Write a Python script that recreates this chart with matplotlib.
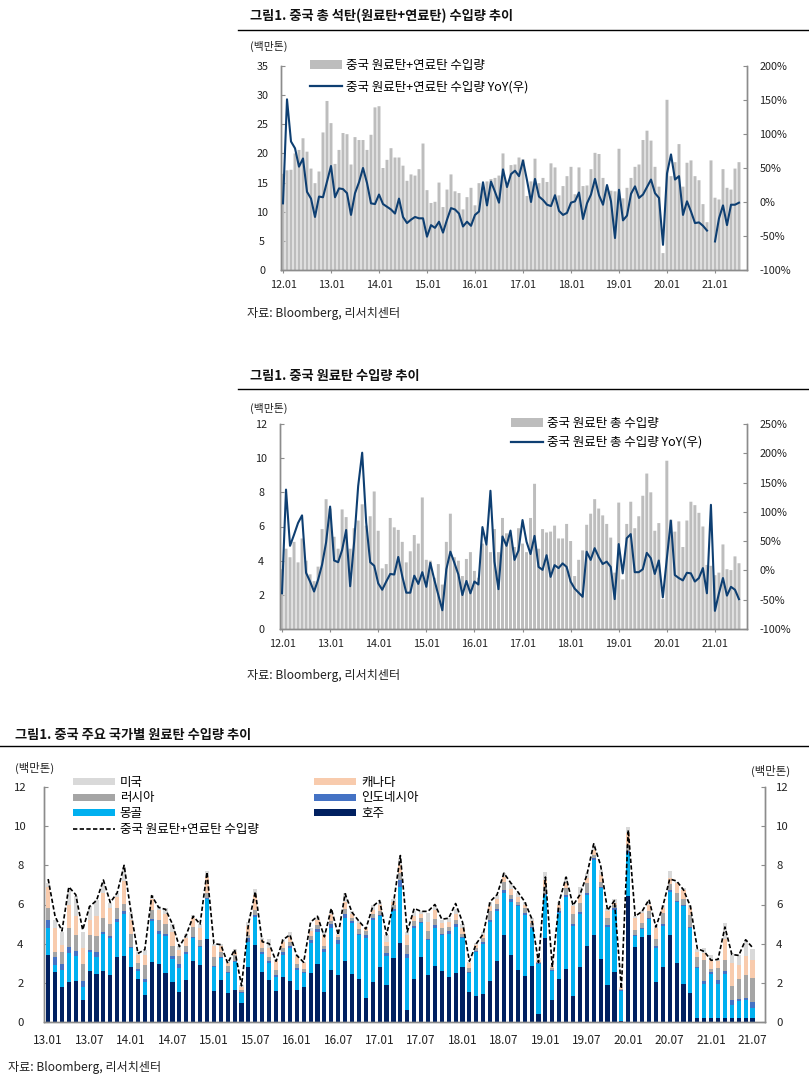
#!/usr/bin/env python3
"""
China coal import charts: total coal, coking coal, coking coal by country
"""

import numpy as np
import matplotlib.pyplot as plt
from matplotlib.patches import Patch
from matplotlib.lines import Line2D

plt.rcParams['font.family'] = ['Noto Sans CJK KR', 'DejaVu Sans']

W, H = 809, 1081

# ---- 그림1: total coal imports 12.01 ~ 21.07 (million tons) and YoY (%) ----
total_imports = [
    16.5, 17.1, 17.2, 20.0, 20.6, 22.6, 20.3, 17.4, 14.9, 16.9, 23.6, 29.0,
    25.2, 18.2, 20.6, 23.5, 23.3, 18.1, 22.8, 22.3, 22.3, 20.6, 23.2, 27.9,
    28.1, 17.5, 18.9, 20.9, 19.3, 19.3, 17.9, 15.3, 16.4, 16.2, 17.3, 21.7,
    13.7, 11.5, 11.7, 15.0, 10.8, 13.8, 16.4, 13.5, 13.2, 10.4, 12.5, 14.1,
    11.1, 14.9, 14.2, 15.2, 15.6, 15.8, 16.2, 20.0, 14.7, 18.0, 18.1, 19.3,
    19.0, 12.7, 15.2, 19.1, 14.9, 15.8, 15.1, 18.3, 17.6, 12.8, 14.4, 16.1,
    17.7, 13.0, 17.6, 14.4, 14.5, 17.3, 20.1, 19.9, 15.8, 14.3, 13.6, 13.5,
    20.8, 12.3, 14.1, 15.8, 17.7, 18.1, 22.3, 23.9, 22.2, 17.7, 14.3, 2.9,
    29.2, 16.1, 18.5, 21.6, 14.3, 18.4, 18.8, 16.1, 15.4, 11.3, 8.2, 18.8,
    12.4, 12.1, 17.3, 14.1, 13.8, 17.4, 18.5,
]
total_yoy = [
    -2, 151, 89, 79, 52, 64, 15, 5, -22, 8, 7, 30,
    53, 7, 20, 19, 13, -19, 13, 29, 50, 28, -2, -3,
    11, -3, -7, -11, -17, 5, -22, -31, -26, -22, -24, -24,
    -51, -34, -38, -29, -45, -26, -9, -11, -17, -36, -29, -35,
    -19, -14, 29, -5, 30, 15, -1, 48, 22, 41, 46, 38,
    61, 32, 0, 34, 8, 3, -4, -6, 10, -13, -19, -16,
    -1, 1, 14, -25, -2, 11, 34, 10, -4, 25, 1, -53,
    18, -27, -20, 12, 23, 6, 11, 22, 33, 13, 6, -63,
    42, 70, 33, 38, -19, 1, -14, -31, -30, -35, -42, np.nan,
    -58, -24, -5, -34, -4, -4, -1,
]

# ---- 그림1: coking coal imports 12.01 ~ 21.07 (million tons) and YoY (%) ----
coking_imports = [
    3.5, 4.7, 4.2, 5.1, 3.9, 5.3, 4.0, 3.2, 2.8, 3.65, 5.85, 7.6,
    7.05, 5.4, 4.7, 7.0, 6.55, 4.7, 5.9, 6.35, 7.3, 6.05, 6.6, 8.05,
    5.75, 3.55, 3.8, 6.5, 5.95, 5.8, 5.1, 3.9, 4.55, 5.5, 5.0, 7.7,
    4.05, 4.0, 3.0, 3.8, 2.6, 5.1, 6.75, 4.2, 4.0, 3.1, 4.1, 4.5,
    3.4, 3.0, 5.0, 4.9, 4.5, 5.85, 4.5, 6.5, 5.6, 5.6, 4.8, 5.9,
    5.0, 4.5, 6.5, 8.5, 4.7, 5.85, 5.65, 5.7, 6.05, 5.3, 5.3, 6.15,
    5.15, 3.1, 4.05, 4.6, 6.1, 6.75, 7.6, 7.05, 6.65, 6.15, 5.35, 3.3,
    7.4, 2.9, 6.15, 7.45, 5.9, 6.6, 7.8, 9.1, 8.0, 5.75, 6.2, 1.75,
    9.85, 6.4, 5.7, 6.3, 4.8, 6.35, 7.45, 7.25, 6.8, 6.0, 3.75, 3.7,
    3.15, 3.3, 4.95, 3.5, 3.45, 4.25, 3.85,
]
coking_yoy = [
    -39, 138, 42, 61, 81, 94, -4, -19, -36, -16, 10, 48,
    109, 17, 14, 35, 69, -27, 49, 144, 201, 82, 14, 8,
    -22, -33, -19, -6, -7, 23, -10, -38, -38, -9, -23, -3,
    -28, 13, -16, -42, -68, 2, 32, 13, -7, -42, -18, -39,
    -19, -24, 74, 44, 136, 15, -32, 58, 42, 68, 18, 34,
    86, 49, 28, 59, 6, 1, 26, -11, 9, 4, 12, 6,
    -19, -31, -38, -45, 32, 18, 38, 23, 11, 15, 6, -49,
    45, -5, 55, 62, -3, -3, 2, 30, 21, -6, 17, -46,
    20, 85, -8, -13, -17, -4, -5, -19, -13, 4, -39, 112,
    -69, -39, -13, -43, -28, -33, -49,
]

# ---- 그림1: coking coal imports by country 13.01 ~ 21.07 (million tons) ----
australia = [
    3.4, 2.55, 1.8, 2.05, 2.1, 1.1, 2.6, 2.45, 2.6, 2.4, 3.3, 3.35,
    2.8, 2.2, 1.4, 3.05, 2.95, 2.5, 2.05, 1.55, 2.15, 3.1, 2.9, 4.25,
    1.6, 2.15, 1.5, 1.65, 0.95, 2.8, 3.95, 2.55, 2.15, 1.6, 2.3, 2.1,
    1.65, 1.8, 2.5, 2.95, 1.55, 2.65, 2.4, 3.1, 2.45, 2.2, 1.23, 2.05,
    2.8, 1.9, 3.25, 4.05, 0.6, 2.2, 3.3, 2.4, 2.85, 2.6, 2.3, 2.5,
    2.8, 1.55, 1.35, 1.45, 2.1, 3.1, 4.45, 3.4, 2.65, 2.35, 2.85, 0.4,
    4.3, 1.1, 2.2, 2.7, 1.35, 2.8, 3.9, 4.45, 3.2, 1.9, 2.55, 0.05,
    6.45, 3.85, 4.35, 4.45, 2.05, 2.8, 4.45, 3.0, 1.95, 1.5, 0.22, 0.22,
    0.22, 0.22, 0.22, 0.22, 0.22, 0.22, 0.22,
]
mongolia = [
    1.4, 0.35, 0.85, 1.45, 1.25, 0.7, 0.95, 0.85, 1.9, 1.9, 1.8, 2.15,
    1.0, 0.4, 0.65, 2.1, 1.55, 1.9, 1.15, 1.2, 1.3, 1.2, 0.95, 2.05,
    1.2, 1.1, 1.0, 1.4, 0.55, 1.3, 1.4, 0.9, 0.85, 0.7, 1.1, 1.7,
    1.0, 0.7, 1.55, 1.65, 2.05, 2.15, 1.6, 2.2, 2.6, 2.25, 3.07, 3.15,
    2.6, 1.45, 2.4, 2.85, 2.65, 2.6, 1.75, 1.8, 1.95, 1.85, 2.2, 2.35,
    1.5, 0.95, 2.25, 2.55, 3.0, 2.55, 2.15, 2.75, 3.25, 3.1, 1.95, 2.55,
    2.2, 1.5, 3.35, 3.7, 3.55, 2.7, 2.6, 3.8, 3.65, 2.95, 3.15, 1.55,
    2.2, 0.55, 0.4, 0.8, 1.75, 2.1, 2.2, 3.15, 3.95, 3.3, 2.53, 1.73,
    2.23, 1.73, 2.23, 0.63, 0.83, 0.88, 0.48,
]
indonesia = [
    0.4, 0.4, 0.3, 0.35, 0.3, 0.3, 0.15, 0.3, 0.1, 0.1, 0.15, 0.15,
    0.05, 0.1, 0.15, 0.1, 0.15, 0.1, 0.15, 0.2, 0.1, 0.05, 0.05, 0.05,
    0.05, 0.05, 0.05, 0.05, 0.05, 0.2, 0.1, 0.1, 0.1, 0.1, 0.15, 0.1,
    0.1, 0.05, 0.15, 0.15, 0.15, 0.2, 0.2, 0.2, 0.1, 0.05, 0.15, 0.1,
    0.05, 0.15, 0.1, 0.35, 0.2, 0.1, 0.05, 0.05, 0.15, 0.05, 0.15, 0.15,
    0.05, 0.05, 0.05, 0.1, 0.1, 0.1, 0.15, 0.15, 0.05, 0.1, 0.05, 0.05,
    0.05, 0.05, 0.1, 0.1, 0.1, 0.1, 0.1, 0.1, 0.05, 0.1, 0.1, 0.05,
    0.1, 0.05, 0.05, 0.05, 0.1, 0.1, 0.1, 0.05, 0.05, 0.05, 0.05, 0.15,
    0.1, 0.2, 0.15, 0.25, 0.15, 0.15, 0.3,
]
russia = [
    0.6, 0.3, 0.6, 0.95, 0.8, 0.85, 0.75, 0.8, 0.7, 0.6, 0.55, 0.4,
    0.65, 0.3, 0.7, 0.45, 0.55, 0.5, 0.55, 0.4, 0.35, 0.5, 0.3, 0.25,
    0.45, 0.25, 0.3, 0.3, 0.1, 0.15, 0.25, 0.25, 0.2, 0.25, 0.25, 0.2,
    0.2, 0.15, 0.2, 0.2, 0.15, 0.15, 0.15, 0.25, 0.15, 0.25, 0.2, 0.2,
    0.2, 0.4, 0.2, 0.35, 0.5, 0.25, 0.2, 0.4, 0.3, 0.3, 0.2, 0.2,
    0.15, 0.2, 0.15, 0.2, 0.45, 0.3, 0.4, 0.2, 0.2, 0.25, 0.2, 0.05,
    0.35, 0.1, 0.15, 0.35, 0.5, 0.5, 0.5, 0.2, 0.25, 0.35, 0.15, 0.05,
    0.3, 0.25, 0.25, 0.35, 0.35, 0.55, 0.3, 0.4, 0.35, 0.6, 0.5, 1.05,
    0.15, 0.6, 0.55, 0.75, 1.0, 1.15, 1.25,
]
canada = [
    1.1, 1.2, 0.4, 1.2, 0.95, 0.85, 0.75, 1.0, 1.3, 0.8, 0.6, 1.15,
    0.7, 0.4, 0.5, 0.6, 0.5, 0.5, 0.7, 0.35, 0.4, 0.45, 0.6, 0.8,
    0.6, 0.35, 0.15, 0.2, 0.15, 0.45, 0.8, 0.4, 0.5, 0.45, 0.3, 0.25,
    0.35, 0.3, 0.25, 0.25, 0.55, 0.35, 0.1, 0.4, 0.2, 0.3, 0.15, 0.2,
    0.3, 0.2, 0.2, 0.4, 0.5, 0.25, 0.2, 0.45, 0.45, 0.25, 0.25, 0.3,
    0.3, 0.25, 0.15, 0.15, 0.25, 0.25, 0.25, 0.3, 0.25, 0.2, 0.1, 0.1,
    0.35, 0.05, 0.15, 0.25, 0.4, 0.4, 0.25, 0.25, 0.35, 0.35, 0.15, 0.05,
    0.6, 0.6, 0.5, 0.3, 0.55, 0.25, 0.3, 0.5, 0.45, 0.35, 0.3, 0.35,
    0.45, 0.35, 1.1, 1.15, 0.7, 0.95, 0.9,
]
usa = [
    0.2, 0.4, 0.65, 0.8, 1.05, 0.8, 0.7, 0.85, 0.5, 0.3, 0.2, 0.7,
    0.4, 0.15, 0.3, 0.2, 0.2, 0.3, 0.4, 0.2, 0.2, 0.15, 0.2, 0.3,
    0.1, 0.1, 0.05, 0.15, 0.1, 0.2, 0.3, 0.1, 0.45, 0.1, 0.15, 0.25,
    0.1, 0.05, 0.15, 0.15, 0.15, 0.2, 0.05, 0.45, 0.15, 0.1, 0.05, 0.25,
    0.2, 0.35, 0.15, 0.35, 0.15, 0.25, 0.15, 0.45, 0.25, 0.15, 0.2, 0.25,
    0.2, 0.05, 0.1, 0.15, 0.25, 0.2, 0.2, 0.3, 0.2, 0.15, 0.15, 0.1,
    0.4, 0.1, 0.2, 0.3, 0.1, 0.4, 0.25, 0.25, 0.25, 0.15, 0.2, 0.05,
    0.3, 0.1, 0.1, 0.2, 0.1, 0.15, 0.35, 0.05, 0.1, 0.15, 0.15, 0.3,
    0.25, 0.1, 0.8, 0.5, 0.5, 0.85, 0.6,
]
coking_total = [
    7.3, 5.4, 4.65, 6.9, 6.5, 4.7, 5.9, 6.2, 7.25, 6.1, 6.6, 8.0,
    5.6, 3.5, 3.7, 6.45, 5.85, 5.75, 5.0, 3.85, 4.45, 5.4, 5.0, 7.65,
    4.0, 3.95, 3.0, 3.7, 1.85, 5.0, 6.65, 4.1, 4.0, 3.1, 4.2, 4.45,
    3.4, 3.05, 5.1, 5.4, 4.35, 5.8, 4.45, 6.55, 5.6, 5.15, 4.75, 5.9,
    6.2, 4.45, 6.05, 8.5, 4.6, 5.8, 5.65, 5.65, 6.0, 5.25, 5.3, 6.05,
    5.1, 3.1, 4.0, 4.5, 6.15, 6.5, 7.6, 7.1, 6.65, 6.15, 5.3, 3.05,
    7.4, 2.8, 6.15, 7.4, 5.95, 6.5, 7.5, 9.1, 8.0, 5.7, 6.2, 1.7,
    9.8, 5.4, 5.65, 6.25, 4.85, 5.9, 7.3, 7.2, 6.75, 5.9, 3.75, 3.6,
    3.15, 3.2, 4.85, 3.45, 3.4, 4.2, 3.8,
]

year_labels = ['12.01', '13.01', '14.01', '15.01', '16.01',
               '17.01', '18.01', '19.01', '20.01', '21.01']
half_labels = ['13.01', '13.07', '14.01', '14.07', '15.01', '15.07',
               '16.01', '16.07', '17.01', '17.07', '18.01', '18.07',
               '19.01', '19.07', '20.01', '20.07', '21.01', '21.07']

country_names = ['호주', '몽골', '인도네시아', '러시아', '캐나다', '미국']
country_colors = ['#002060', '#00b0f0', '#4472c4', '#a5a5a5', '#f8cbad', '#d9d9d9']

BAR_GRAY = '#bdbdbd'
LINE_BLUE = '#0e3f72'
SPINE = '#8c8c8c'
TXT = '#222222'
DASH = (0, (2.6, 1.4))


def fx(px):
    return px / W


def fy(py):
    return 1 - py / H


def box(left, top, right, bottom):
    """pixel box -> figure fraction rect"""
    return [fx(left), fy(bottom), (right - left) / W, (bottom - top) / H]


def header(fig, title, x_title, y_title, x_line, y_line):
    fig.text(fx(x_title), fy(y_title), title, fontsize=9.5, fontweight='bold',
             color='#111111', va='center', ha='left')
    fig.add_artist(Line2D([fx(x_line), 1.0], [fy(y_line), fy(y_line)],
                          transform=fig.transFigure, color='black', lw=1.0))


def style_axes(ax):
    ax.spines['top'].set_visible(False)
    for side in ['left', 'right', 'bottom']:
        ax.spines[side].set_color(SPINE)
        ax.spines[side].set_linewidth(1.0)
    ax.tick_params(axis='y', direction='in', length=3, color=SPINE,
                   labelcolor=TXT)
    ax.tick_params(axis='x', direction='inout', length=4, color=SPINE,
                   labelcolor=TXT)


def yoy_panel(fig, rect, bars, yoy, ymax, ystep, rmin, rmax, rstep):
    """bar (left axis) + YoY line (right axis) panel"""
    x = np.arange(len(bars))
    ax = fig.add_axes(rect)
    ax.bar(x, bars, width=0.74, color=BAR_GRAY, linewidth=0, snap=False,
           zorder=2)
    ax.set_xlim(-0.5, 116)
    ax.set_ylim(0, ymax)
    ax.set_yticks(np.arange(0, ymax + 0.1, ystep))
    ax.set_xticks(np.arange(0, 109, 12))
    ax.set_xticklabels(year_labels)
    style_axes(ax)
    ax.tick_params(axis='y', labelsize=7.8, pad=13.5)
    ax.tick_params(axis='x', labelsize=7.8, pad=5)
    for t in ax.get_yticklabels():
        t.set_horizontalalignment('center')

    ax2 = ax.twinx()
    ax2.plot(x, yoy, color=LINE_BLUE, lw=1.5, zorder=3)
    ax2.set_ylim(rmin, rmax)
    ticks = np.arange(rmin, rmax + 1, rstep)
    ax2.set_yticks(ticks)
    ax2.set_yticklabels([f'{v}%' for v in ticks])
    style_axes(ax2)
    ax2.tick_params(axis='y', labelsize=7.8, pad=9)
    ax2.set_xlim(-0.5, 116)
    return ax, ax2


def legend_pair(fig, labels, xy, gap):
    handles = [Patch(facecolor=BAR_GRAY, edgecolor='none'),
               Line2D([], [], color=LINE_BLUE, lw=1.6)]
    fig.legend(handles, labels, loc='upper left',
               bbox_to_anchor=(fx(xy[0]), fy(xy[1])),
               bbox_transform=fig.transFigure, frameon=False, fontsize=9,
               handlelength=2.55, handleheight=0.65, handletextpad=0.3,
               labelspacing=gap, borderpad=0, borderaxespad=0)


def country_panel(fig, rect):
    x = np.arange(len(australia))
    series = [australia, mongolia, indonesia, russia, canada, usa]
    ax = fig.add_axes(rect)
    bottom = np.zeros(len(x))
    for vals, name, col in zip(series, country_names, country_colors):
        ax.bar(x, vals, bottom=bottom, width=0.6, color=col, label=name,
               linewidth=0, zorder=2)
        bottom = bottom + np.array(vals)
    ax.plot(x, coking_total, color='black', lw=1.2, ls=DASH, zorder=3)
    ax.set_xlim(-0.6, 103.8)
    ax.set_ylim(0, 12)
    ax.set_yticks(np.arange(0, 13, 2))
    ax.set_xticks(np.arange(0, 103, 6))
    ax.set_xticklabels(half_labels)
    style_axes(ax)
    ax.tick_params(axis='y', labelsize=8.2, pad=17)
    ax.tick_params(axis='x', labelsize=8.5, length=0, pad=9)
    for t in ax.get_yticklabels():
        t.set_horizontalalignment('center')

    ax2 = ax.twinx()
    ax2.set_ylim(0, 12)
    ax2.set_yticks(np.arange(0, 13, 2))
    style_axes(ax2)
    ax2.tick_params(axis='y', labelsize=8.2, pad=8)

    # legend: two columns
    def patch(c):
        return Patch(facecolor=c, edgecolor='none')

    col1 = [patch(country_colors[5]), patch(country_colors[3]),
            patch(country_colors[1]),
            Line2D([], [], color='black', lw=1.2, ls=DASH)]
    col1_labels = ['미국', '러시아', '몽골', '중국 원료탄+연료탄 수입량']
    col2 = [patch(country_colors[4]), patch(country_colors[2]),
            patch(country_colors[0])]
    col2_labels = ['캐나다', '인도네시아', '호주']
    kw = dict(loc='upper left', bbox_transform=fig.transFigure, frameon=False,
              fontsize=9, handlelength=3.35, handleheight=0.5,
              handletextpad=0.4, labelspacing=0.2, borderpad=0,
              borderaxespad=0)
    fig.legend(col1, col1_labels, bbox_to_anchor=(fx(73), fy(776)), **kw)
    fig.legend(col2, col2_labels, bbox_to_anchor=(fx(314), fy(776)), **kw)
    return ax


def main():
    fig = plt.figure(figsize=(W / 100, H / 100), dpi=100)

    # panel 1
    header(fig, '그림1. 중국 총 석탄(원료탄+연료탄) 수입량 추이', 250, 16, 238, 30)
    fig.text(fx(250), fy(46), '(백만톤)', fontsize=7.8, color=TXT,
             va='center', ha='left')
    yoy_panel(fig, box(281, 66, 747, 270), total_imports, total_yoy,
              35, 5, -100, 200, 50)
    legend_pair(fig, ['중국 원료탄+연료탄 수입량', '중국 원료탄+연료탄 수입량 YoY(우)'],
                (310, 59), 0.7)
    fig.text(fx(247), fy(313), '자료: Bloomberg, 리서치센터', fontsize=8.7,
             color=TXT, va='center', ha='left')

    # panel 2
    header(fig, '그림1. 중국 원료탄 수입량 추이', 250, 376, 238, 389)
    fig.text(fx(250), fy(408), '(백만톤)', fontsize=7.8, color=TXT,
             va='center', ha='left')
    yoy_panel(fig, box(280, 424, 747, 629), coking_imports, coking_yoy,
              12, 2, -100, 250, 50)
    legend_pair(fig, ['중국 원료탄 총 수입량', '중국 원료탄 총 수입량 YoY(우)'],
                (511, 417), 0.47)
    fig.text(fx(247), fy(675), '자료: Bloomberg, 리서치센터', fontsize=8.7,
             color=TXT, va='center', ha='left')

    # panel 3
    header(fig, '그림1. 중국 주요 국가별 원료탄 수입량 추이', 15, 735, 0, 746)
    fig.text(fx(15), fy(768), '(백만톤)', fontsize=8.2, color=TXT,
             va='center', ha='left')
    fig.text(fx(751), fy(771), '(백만톤)', fontsize=8.2, color=TXT,
             va='center', ha='left')
    country_panel(fig, box(44, 787, 765, 1022))
    fig.text(fx(8), fy(1067), '자료: Bloomberg, 리서치센터', fontsize=8.7,
             color=TXT, va='center', ha='left')

    fig.savefig('out.png', dpi=100)


if __name__ == "__main__":
    main()
